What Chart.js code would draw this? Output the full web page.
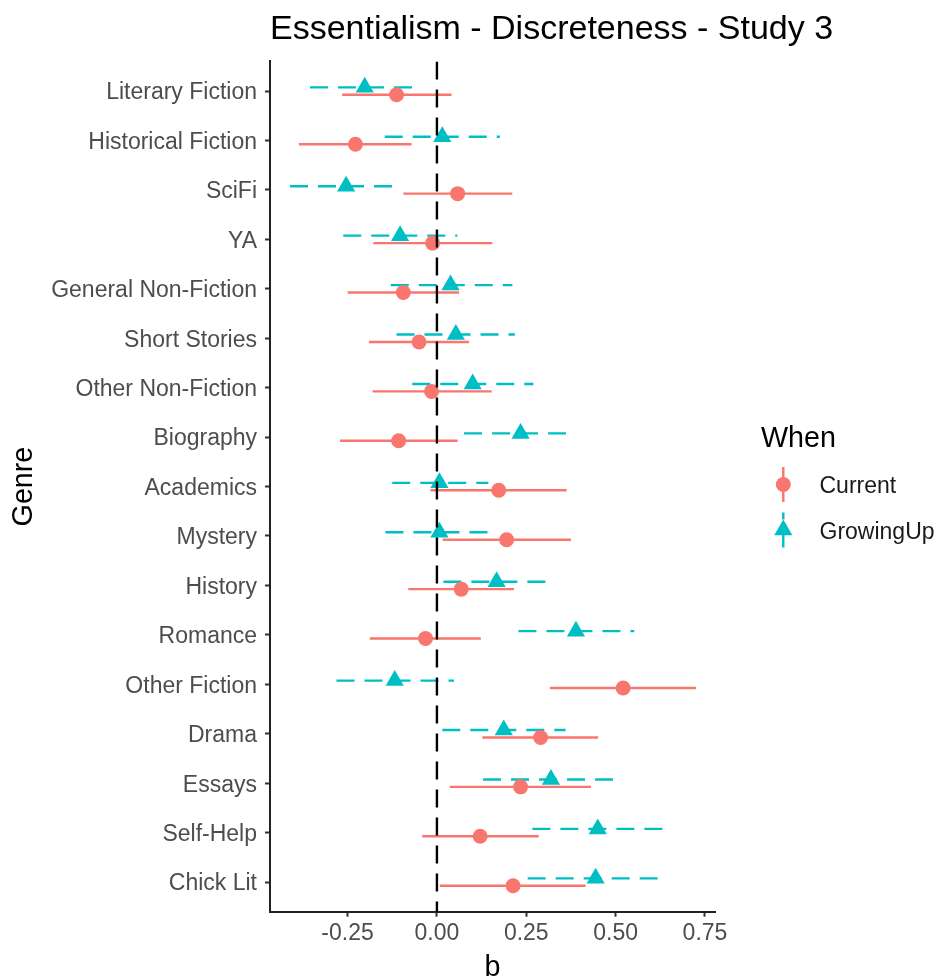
<!DOCTYPE html>
<html>
<head>
<meta charset="utf-8">
<script src="https://cdn.jsdelivr.net/npm/chart.js@4.4.1/dist/chart.umd.min.js"></script>
<style>
  html, body { margin: 0; padding: 0; background: #ffffff; }
  #wrap { width: 939px; height: 977px; position: relative; }
</style>
</head>
<body>
<div id="wrap"><canvas id="c" width="939" height="977"></canvas></div>
<script>
// Genres, top to bottom
const genres = ['Literary Fiction', 'Historical Fiction', 'SciFi', 'YA', 'General Non-Fiction',
  'Short Stories', 'Other Non-Fiction', 'Biography', 'Academics', 'Mystery', 'History',
  'Romance', 'Other Fiction', 'Drama', 'Essays', 'Self-Help', 'Chick Lit'];

// "Current" estimates with interval bounds
const currentEst = [-0.113, -0.228, 0.058, -0.012, -0.094, -0.050, -0.015, -0.107, 0.173, 0.195, 0.068, -0.032, 0.521, 0.290, 0.234, 0.121, 0.213];
const currentLo  = [-0.265, -0.386, -0.094, -0.178, -0.250, -0.190, -0.180, -0.271, -0.018, 0.016, -0.080, -0.188, 0.316, 0.127, 0.036, -0.041, 0.008];
const currentHi  = [0.041, -0.071, 0.211, 0.155, 0.062, 0.090, 0.153, 0.058, 0.363, 0.375, 0.216, 0.123, 0.725, 0.451, 0.431, 0.285, 0.416];

// "GrowingUp" estimates with interval bounds
const growEst = [-0.202, 0.015, -0.254, -0.103, 0.038, 0.053, 0.100, 0.234, 0.007, 0.007, 0.167, 0.389, -0.118, 0.187, 0.319, 0.450, 0.444];
const growLo  = [-0.355, -0.146, -0.411, -0.262, -0.129, -0.113, -0.069, 0.076, -0.125, -0.144, 0.018, 0.228, -0.281, 0.015, 0.129, 0.267, 0.254];
const growHi  = [-0.062, 0.176, -0.115, 0.057, 0.211, 0.218, 0.270, 0.370, 0.144, 0.151, 0.311, 0.552, 0.048, 0.360, 0.505, 0.635, 0.629];

const xTicks = [-0.25, 0, 0.25, 0.5, 0.75];
const seriesNames = ['Current', 'GrowingUp'];
const chartTitle = 'Essentialism - Discreteness - Study 3';

const RED = '#F8766D';
const TEAL = '#00BFC4';
const FONT = "'Liberation Sans', Arial, Helvetica, sans-serif";
const DODGE = 0.075;

// horizontal interval segments, separated by gaps
function intervals(lo, hi, shift) {
  const pts = [];
  genres.forEach((g, i) => {
    pts.push({ x: lo[i], y: i + shift });
    pts.push({ x: hi[i], y: i + shift });
    pts.push({ x: null, y: null });
  });
  return pts;
}
function points(est, shift) {
  return genres.map((g, i) => ({ x: est[i], y: i + shift }));
}

// title left-aligned with the panel, plus the "When" legend on the right
const decorPlugin = {
  id: 'decor',
  afterDraw(chart) {
    const ctx = chart.ctx;
    const area = chart.chartArea;
    ctx.save();
    ctx.fillStyle = '#000';
    ctx.textAlign = 'left';
    ctx.textBaseline = 'alphabetic';
    ctx.font = '34px ' + FONT;
    ctx.fillText(chartTitle, area.left, 39.3);

    ctx.font = '28.7px ' + FONT;
    ctx.fillText('When', 761, 446.5);

    const keys = [
      { name: seriesNames[0], color: RED, style: 'circle', r: 7.5, dash: [], cy: 484.5, ty: 486.5 },
      { name: seriesNames[1], color: TEAL, style: 'triangle', r: 10.5, dash: [18, 10], cy: 530, ty: 532.5 }
    ];
    keys.forEach(k => {
      ctx.save();
      ctx.strokeStyle = k.color;
      ctx.lineWidth = 2.4;
      ctx.setLineDash(k.dash);
      ctx.beginPath();
      ctx.moveTo(783.3, k.cy + 17.5);
      ctx.lineTo(783.3, k.cy - 17.5);
      ctx.stroke();
      ctx.restore();
      ctx.fillStyle = k.color;
      Chart.helpers.drawPoint(ctx, { pointStyle: k.style, radius: k.r, borderWidth: 0, rotation: 0 }, 783.3, k.cy);
      ctx.fillStyle = '#1a1a1a';
      ctx.font = '23px ' + FONT;
      ctx.textBaseline = 'middle';
      ctx.fillText(k.name, 819.5, k.ty);
    });
    ctx.restore();
  }
};

new Chart(document.getElementById('c'), {
  type: 'scatter',
  data: {
    datasets: [
      {
        label: 'zero',
        type: 'line',
        data: [{ x: 0, y: -0.6 }, { x: 0, y: 16.6 }],
        borderColor: '#000',
        borderWidth: 2.4,
        borderDash: [18, 10],
        pointRadius: 0,
        showLine: true,
        order: 0
      },
      {
        label: seriesNames[0],
        data: points(currentEst, DODGE),
        backgroundColor: RED,
        borderWidth: 0,
        pointStyle: 'circle',
        pointRadius: 7.5,
        order: 1
      },
      {
        label: seriesNames[1],
        data: points(growEst, -DODGE),
        backgroundColor: TEAL,
        borderWidth: 0,
        pointStyle: 'triangle',
        pointRadius: 10.5,
        order: 1
      },
      {
        label: seriesNames[0] + ' interval',
        type: 'line',
        data: intervals(currentLo, currentHi, DODGE),
        borderColor: RED,
        borderWidth: 2.4,
        pointRadius: 0,
        showLine: true,
        spanGaps: false,
        order: 2
      },
      {
        label: seriesNames[1] + ' interval',
        type: 'line',
        data: intervals(growLo, growHi, -DODGE),
        borderColor: TEAL,
        borderWidth: 2.4,
        borderDash: [18, 10],
        pointRadius: 0,
        showLine: true,
        spanGaps: false,
        order: 2
      }
    ]
  },
  options: {
    responsive: false,
    animation: false,
    events: [],
    layout: { padding: { left: 0, right: 224, top: 61.4, bottom: 0 } },
    plugins: {
      legend: { display: false },
      tooltip: { enabled: false },
      title: { display: false }
    },
    scales: {
      x: {
        type: 'linear',
        position: 'bottom',
        min: -0.467,
        max: 0.778,
        afterBuildTicks: s => { s.ticks = xTicks.map(v => ({ value: v })); },
        afterFit: s => { s.height = 65.3; },
        ticks: {
          color: '#4D4D4D',
          font: { family: FONT, size: 23 },
          padding: 3,
          maxRotation: 0,
          autoSkip: false,
          callback: v => v.toFixed(2)
        },
        grid: { display: true, drawOnChartArea: false, drawTicks: true, tickLength: 5, tickColor: '#333', tickWidth: 2 },
        border: { display: true, color: '#222', width: 2 },
        title: {
          display: true,
          text: 'b',
          color: '#000',
          font: { family: FONT, size: 28.7, lineHeight: 0.56 },
          padding: { top: 0, bottom: 1 }
        }
      },
      y: {
        type: 'linear',
        position: 'left',
        reverse: true,
        min: -0.6,
        max: 16.6,
        afterBuildTicks: s => { s.ticks = genres.map((g, i) => ({ value: i })); },
        afterFit: s => { s.width = 270; },
        ticks: {
          color: '#4D4D4D',
          font: { family: FONT, size: 23 },
          padding: 8,
          labelOffset: 2,
          autoSkip: false,
          callback: v => genres[v]
        },
        grid: { display: true, drawOnChartArea: false, drawTicks: true, tickLength: 5, tickColor: '#333', tickWidth: 2 },
        border: { display: true, color: '#222', width: 2 },
        title: {
          display: true,
          text: 'Genre',
          color: '#000',
          font: { family: FONT, size: 28.7, lineHeight: 1.2 },
          padding: { top: 7, bottom: 0 }
        }
      }
    }
  },
  plugins: [decorPlugin]
});
</script>
</body>
</html>
